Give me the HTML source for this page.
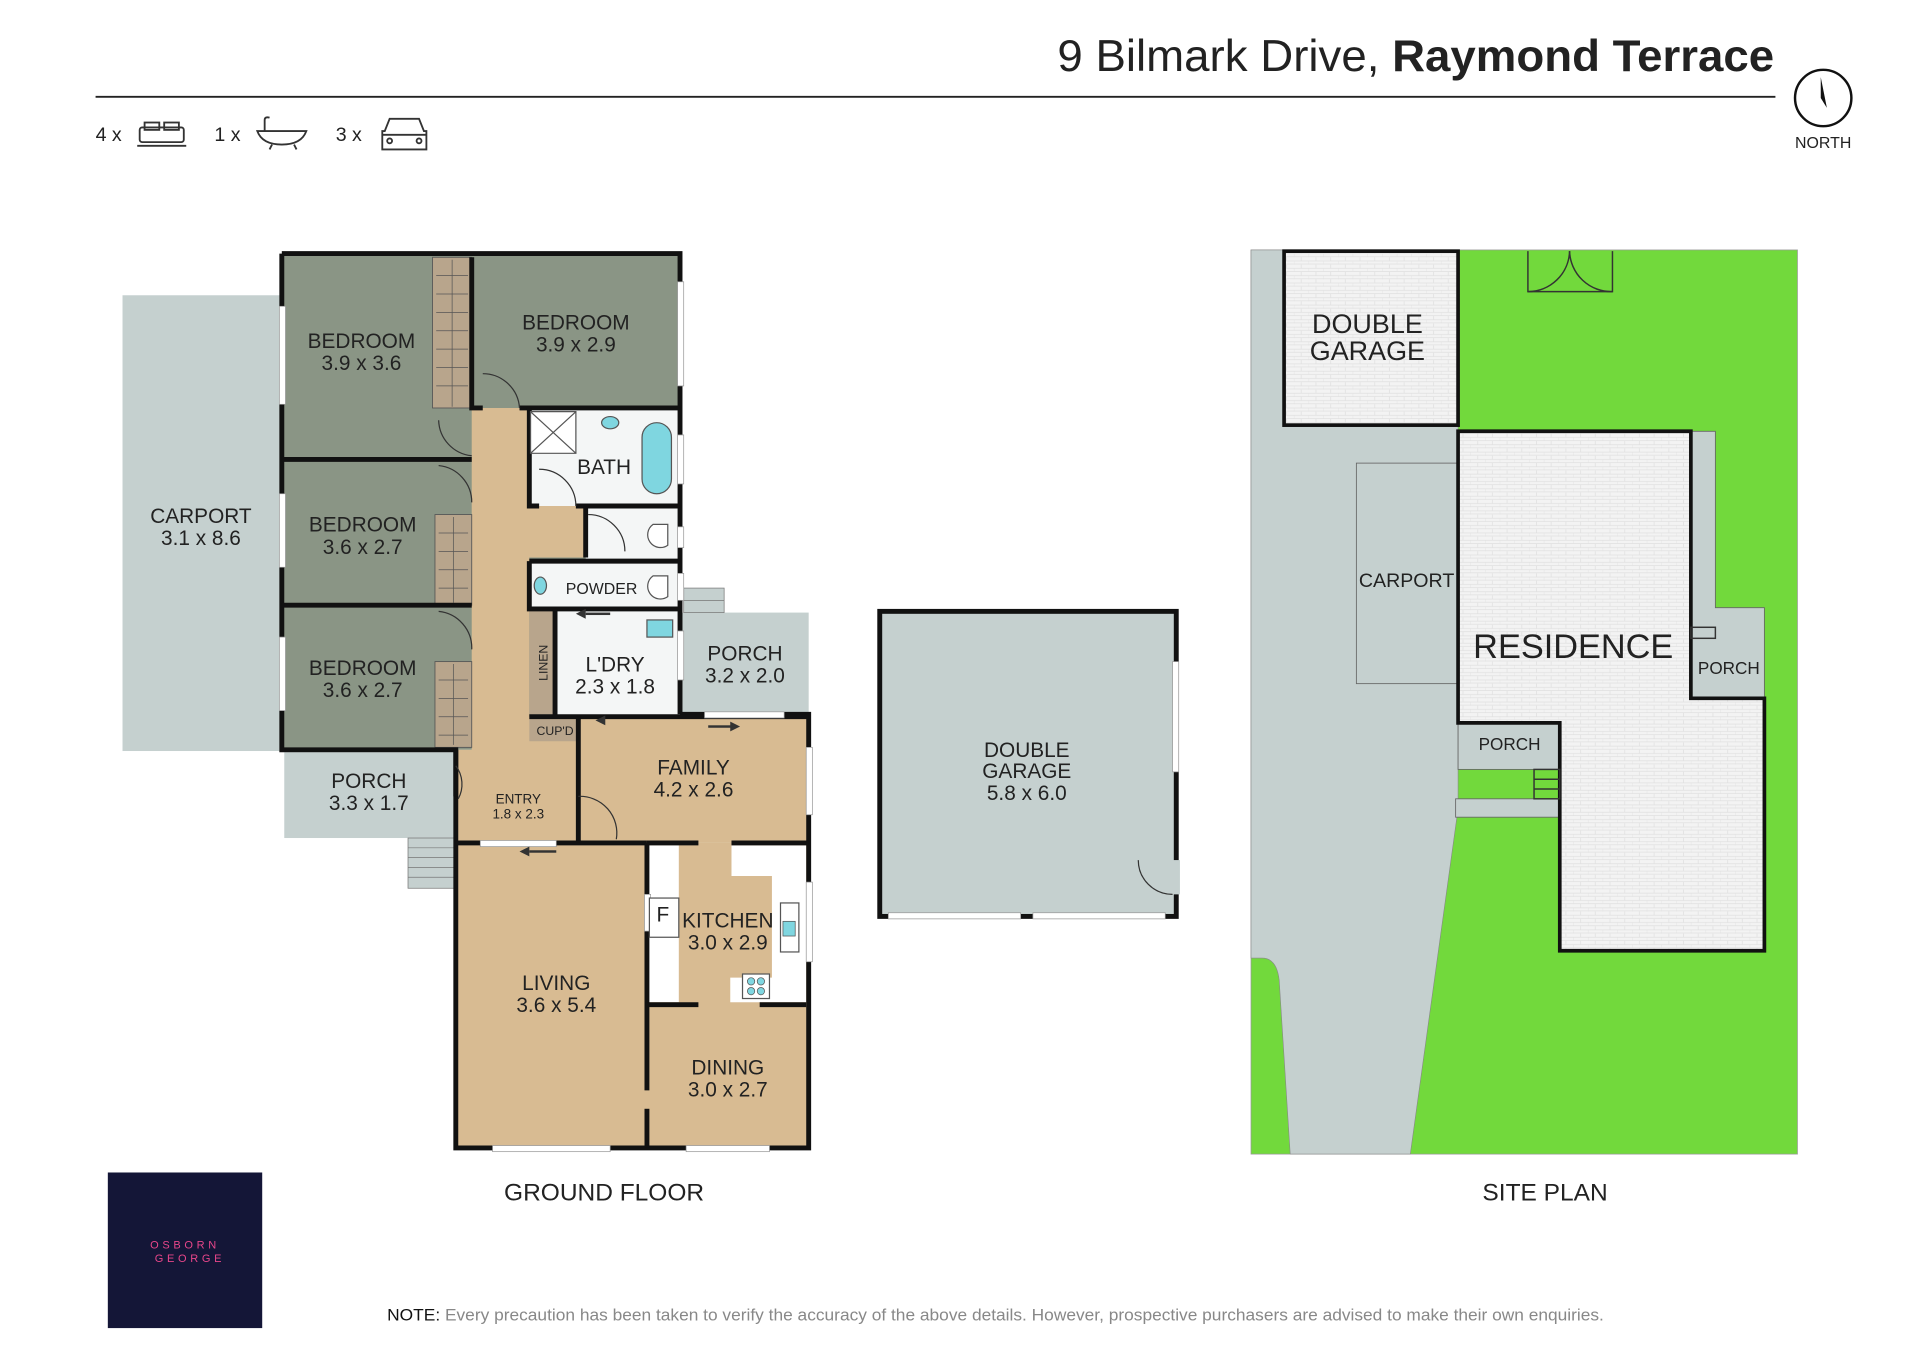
<!DOCTYPE html>
<html><head><meta charset="utf-8"><style>
html,body{margin:0;padding:0;background:#fff}
svg{display:block}
text{font-family:"Liberation Sans","DejaVu Sans",sans-serif;fill:#222}
</style></head><body>
<svg width="1920" height="1357" viewBox="0 0 1567 1107.6" preserveAspectRatio="none" xmlns="http://www.w3.org/2000/svg">
<defs><pattern id="br" width="12" height="6" patternUnits="userSpaceOnUse"><rect width="12" height="6" fill="#f3f3f3"/><path d="M0 5.5H12M6 0V3M0 3H12M0 3V6" stroke="#e0e0e0" stroke-width=".6"/></pattern></defs>
<rect width="1567" height="1107.6" fill="#fff"/>
<!-- header -->
<text x="1448" y="58" font-size="36" text-anchor="end" fill="#111" textLength="585" lengthAdjust="spacingAndGlyphs"><tspan>9 Bilmark Drive, </tspan><tspan font-weight="bold">Raymond Terrace</tspan></text>
<line x1="78" y1="79" x2="1449" y2="79" stroke="#222" stroke-width="1.5"/>
<circle cx="1488" cy="80" r="23" fill="none" stroke="#111" stroke-width="2"/>
<path d="M1486 63 L1491 88 L1486 80 Z" fill="#111"/>
<text x="1488" y="121" font-size="13" text-anchor="middle">NORTH</text>
<text x="78" y="115" font-size="16">4 x</text>
<g fill="none" stroke="#333" stroke-width="1.5"><rect x="114" y="104" width="36" height="12" rx="2"/><rect x="118" y="100" width="12" height="6"/><rect x="134" y="100" width="12" height="6"/><line x1="112" y1="119" x2="152" y2="119"/></g>
<text x="175" y="115" font-size="16">1 x</text>
<g fill="none" stroke="#333" stroke-width="1.5"><path d="M210 107 H250 Q246 118 230 118 Q214 118 210 107 Z"/><path d="M216 107 V98 Q216 95 220 96"/><line x1="222" y1="118" x2="220" y2="122"/><line x1="240" y1="118" x2="242" y2="122"/></g>
<text x="274" y="115" font-size="16">3 x</text>
<g fill="none" stroke="#333" stroke-width="1.5"><path d="M318 97 H342 L346 107 H348 V122 H312 V107 H314 Z"/><line x1="312" y1="110" x2="348" y2="110"/><circle cx="318" cy="115" r="2"/><circle cx="342" cy="115" r="2"/></g>

<!-- GROUND FLOOR -->
<rect x="100" y="241" width="130" height="372" fill="#c5d0cf"/>
<rect x="232" y="614" width="140" height="70" fill="#c5d0cf"/>
<rect x="555" y="500" width="105" height="83" fill="#c5d0cf"/>
<g fill="#c5d0cf" stroke="#777" stroke-width=".6"><rect x="333" y="684" width="39" height="41"/><line x1="333" y1="692" x2="372" y2="692"/><line x1="333" y1="700" x2="372" y2="700"/><line x1="333" y1="708" x2="372" y2="708"/><line x1="333" y1="716" x2="372" y2="716"/>
<rect x="558" y="480" width="33" height="20"/><line x1="558" y1="490" x2="591" y2="490"/></g>
<rect x="230" y="207" width="325" height="405" fill="#8a9585"/>
<path d="M385 333 H432 V455 H478 V413 H432 V585 H472 V688 H372 V612 H385 Z" fill="#d8bb92"/>
<rect x="472" y="585" width="188" height="103" fill="#d8bb92"/>
<rect x="372" y="688" width="288" height="249" fill="#d8bb92"/>
<rect x="432" y="333" width="123" height="80" fill="#f4f6f6"/>
<rect x="478" y="413" width="77" height="45" fill="#f4f6f6"/>
<rect x="432" y="458" width="123" height="39" fill="#f4f6f6"/>
<rect x="453" y="497" width="102" height="88" fill="#f4f6f6"/>
<rect x="432" y="497" width="21" height="88" fill="#b8a58c"/>
<rect x="432" y="587" width="40" height="18" fill="#b8a58c"/>
<rect x="528" y="690" width="26" height="128" fill="#fff"/>
<path d="M597 690 H658 V818 H596 V798 H630 V715 H597 Z" fill="#fff"/>
<g fill="#b8a58c" stroke="#555" stroke-width=".7"><rect x="353" y="210" width="32" height="123"/><rect x="355" y="420" width="30" height="74"/><rect x="355" y="540" width="30" height="70"/></g>
<g stroke="#555" stroke-width=".6"><path d="M356 225H382M356 240H382M356 255H382M356 270H382M356 285H382M356 300H382M356 315H382M358 435H382M358 450H382M358 465H382M358 480H382M358 555H382M358 570H382M358 585H382M358 600H382M369 212V332M370 422V492M370 542V608"/></g>
<g stroke="#111" stroke-width="4" fill="none">
<path d="M230 207 H555 V583"/>
<path d="M230 207 V612 H372 V937 H660 V583 H555"/>
<path d="M385 210 V333 H394"/><path d="M424 333 H555"/>
<path d="M230 375 H385"/><path d="M230 494 H385"/>
<path d="M432 333 V413 H440"/><path d="M470 413 H555"/>
<path d="M478 413 V455"/><path d="M432 458 H555"/><path d="M432 458 V497 H555"/>
<path d="M453 497 V585"/><path d="M432 585 H660"/>
<path d="M472 585 V688"/><path d="M372 688 H528"/><path d="M528 688 V890"/><path d="M528 905 V937"/>
<path d="M528 820 H570"/><path d="M620 820 H658"/><path d="M528 688 H570"/><path d="M597 688 H660"/>
<path d="M372 612 V650"/>
</g>
<g fill="#fff" stroke="#999" stroke-width=".6"><rect x="228" y="250" width="5" height="80"/><rect x="228" y="403" width="5" height="60"/><rect x="228" y="520" width="5" height="60"/><rect x="553" y="230" width="5" height="85"/><rect x="553" y="355" width="5" height="40"/><rect x="553" y="430" width="5" height="17"/><rect x="553" y="468" width="5" height="22"/><rect x="553" y="515" width="5" height="40"/><rect x="658" y="610" width="5" height="55"/><rect x="658" y="720" width="5" height="65"/><rect x="575" y="581" width="65" height="5"/><rect x="392" y="686" width="62" height="5"/><rect x="402" y="935" width="96" height="5"/><rect x="560" y="935" width="68" height="5"/><rect x="526" y="730" width="5" height="30"/></g>
<g fill="none" stroke="#333" stroke-width="1"><path d="M394 305 A30 30 0 0 1 424 333"/><path d="M358 343 A30 30 0 0 0 385 372"/><path d="M358 380 A30 30 0 0 1 385 410"/><path d="M358 499 A30 30 0 0 1 385 530"/><path d="M440 383 A30 30 0 0 1 470 413"/><path d="M480 420 A30 30 0 0 1 510 450"/><path d="M372 625 A25 25 0 0 1 374 652"/><path d="M472 650 A30 30 0 0 1 503 685"/></g>
<g fill="#333"><path d="M470 501 l8 -4 v8 Z"/><rect x="478" y="500" width="20" height="2"/><path d="M486 588 l8 -4 v8 Z"/><path d="M604 593 l-8 -4 v8 Z"/><rect x="578" y="592" width="20" height="2"/><path d="M424 695 l8 -4 v8 Z"/><rect x="432" y="694" width="22" height="2"/></g>
<g fill="#7fd6e0" stroke="#555" stroke-width="1"><rect x="524" y="345" width="24" height="58" rx="12"/><ellipse cx="498" cy="345" rx="7" ry="5"/><ellipse cx="441" cy="478" rx="5" ry="7"/><rect x="528" y="506" width="21" height="14"/></g>
<g fill="#fff" stroke="#555" stroke-width="1"><path d="M433 336 H470 V370 H433 Z M433 336 L470 370 M470 336 L433 370"/><path d="M545 428 H533 A8 8 0 0 0 545 445 Z"/><path d="M545 470 H533 A8 8 0 0 0 545 487 Z"/><rect x="637" y="737" width="15" height="40"/><rect x="606" y="795" width="22" height="20"/><rect x="530" y="733" width="24" height="32"/></g>
<rect x="639" y="752" width="10" height="12" fill="#7fd6e0" stroke="#555" stroke-width=".6"/>
<g fill="#7fd6e0" stroke="#555" stroke-width=".6"><circle cx="613" cy="801" r="3"/><circle cx="621" cy="801" r="3"/><circle cx="613" cy="809" r="3"/><circle cx="621" cy="809" r="3"/></g>

<!-- Garage -->
<rect x="718" y="499" width="242" height="249" fill="#c5d0cf" stroke="#111" stroke-width="4"/>
<path d="M929 702 A28 28 0 0 0 957 730" fill="none" stroke="#333" stroke-width="1"/>
<line x1="929" y1="702" x2="929" y2="746" stroke="#c5d0cf" stroke-width="0"/>
<rect x="957" y="702" width="6" height="28" fill="#c5d0cf"/>
<g fill="#fff" stroke="#999" stroke-width=".6"><rect x="957" y="540" width="5" height="90"/><rect x="725" y="745" width="108" height="5"/><rect x="843" y="745" width="108" height="5"/></g>

<g font-size="17" text-anchor="middle">
<text x="295" y="284">BEDROOM</text><text x="295" y="302">3.9 x 3.6</text>
<text x="470" y="269">BEDROOM</text><text x="470" y="287">3.9 x 2.9</text>
<text x="296" y="434">BEDROOM</text><text x="296" y="452">3.6 x 2.7</text>
<text x="296" y="551">BEDROOM</text><text x="296" y="569">3.6 x 2.7</text>
<text x="164" y="427">CARPORT</text><text x="164" y="445">3.1 x 8.6</text>
<text x="493" y="387">BATH</text>
<text x="608" y="539">PORCH</text><text x="608" y="557">3.2 x 2.0</text>
<text x="502" y="548">L'DRY</text><text x="502" y="566">2.3 x 1.8</text>
<text x="566" y="632">FAMILY</text><text x="566" y="650">4.2 x 2.6</text>
<text x="301" y="643">PORCH</text><text x="301" y="661">3.3 x 1.7</text>
<text x="454" y="808">LIVING</text><text x="454" y="826">3.6 x 5.4</text>
<text x="594" y="757">KITCHEN</text><text x="594" y="775">3.0 x 2.9</text>
<text x="594" y="877">DINING</text><text x="594" y="895">3.0 x 2.7</text>
<text x="541" y="752">F</text>
<text x="838" y="618">DOUBLE</text><text x="838" y="635">GARAGE</text><text x="838" y="653">5.8 x 6.0</text>
</g>
<text x="491" y="485" font-size="13" text-anchor="middle">POWDER</text>
<text x="423" y="656" font-size="11" text-anchor="middle">ENTRY</text><text x="423" y="668" font-size="11" text-anchor="middle">1.8 x 2.3</text>
<text x="453" y="600" font-size="10" text-anchor="middle">CUP'D</text>
<text x="447" y="541" font-size="10" text-anchor="middle" transform="rotate(-90 447 541)">LINEN</text>
<text x="493" y="980" font-size="20" text-anchor="middle">GROUND FLOOR</text>

<!-- SITE PLAN -->
<rect x="1021" y="204" width="446" height="738" fill="#72d93c" stroke="#999" stroke-width=".6"/>
<path d="M1021 204 H1190 V660 L1151 942 H1053 L1044 800 Q1042 782 1030 782 H1021 Z" fill="#c5d0cf" stroke="#888" stroke-width=".5"/>
<rect x="1048" y="205" width="142" height="142" fill="url(#br)" stroke="#111" stroke-width="3"/>
<rect x="1107" y="378" width="83" height="180" fill="#c5d0cf" stroke="#666" stroke-width=".7"/>
<path d="M1380 352 H1400 V496 H1440 V570 H1380 Z" fill="#c5d0cf" stroke="#666" stroke-width=".7"/>
<rect x="1190" y="590" width="83" height="38" fill="#c5d0cf" stroke="#666" stroke-width=".7"/>
<rect x="1188" y="652" width="85" height="15" fill="#c5d0cf" stroke="#666" stroke-width=".7"/>
<path d="M1190 352 H1380 V570 H1440 V776 H1273 V590 H1190 Z" fill="url(#br)" stroke="#111" stroke-width="3"/>
<g fill="none" stroke="#333" stroke-width="1.2"><path d="M1247 205 V238 H1316 V205"/><path d="M1247 238 A34 34 0 0 0 1281 205"/><path d="M1316 238 A34 34 0 0 1 1281 205"/><rect x="1252" y="628" width="21" height="24"/><line x1="1252" y1="636" x2="1273" y2="636"/><line x1="1252" y1="644" x2="1273" y2="644"/><rect x="1380" y="512" width="20" height="9"/></g>
<g text-anchor="middle"><text x="1116" y="272" font-size="22">DOUBLE</text><text x="1116" y="294" font-size="22">GARAGE</text>
<text x="1148" y="479" font-size="16">CARPORT</text><text x="1284" y="537" font-size="28">RESIDENCE</text>
<text x="1232" y="612" font-size="14">PORCH</text><text x="1411" y="550" font-size="14">PORCH</text>
<text x="1261" y="980" font-size="20">SITE PLAN</text></g>

<rect x="88" y="957" width="126" height="127" fill="#141637"/>
<text x="151" y="1019" font-size="9" text-anchor="middle" style="fill:#e8468a;letter-spacing:3px">OSBORN</text>
<text x="155" y="1030" font-size="9" text-anchor="middle" style="fill:#e8468a;letter-spacing:3px">GEORGE</text>
<text x="316" y="1078" font-size="13.5" style="fill:#888" textLength="993" lengthAdjust="spacingAndGlyphs"><tspan style="fill:#111">NOTE:</tspan> Every precaution has been taken to verify the accuracy of the above details. However, prospective purchasers are advised to make their own enquiries.</text>
</svg>
</body></html>
